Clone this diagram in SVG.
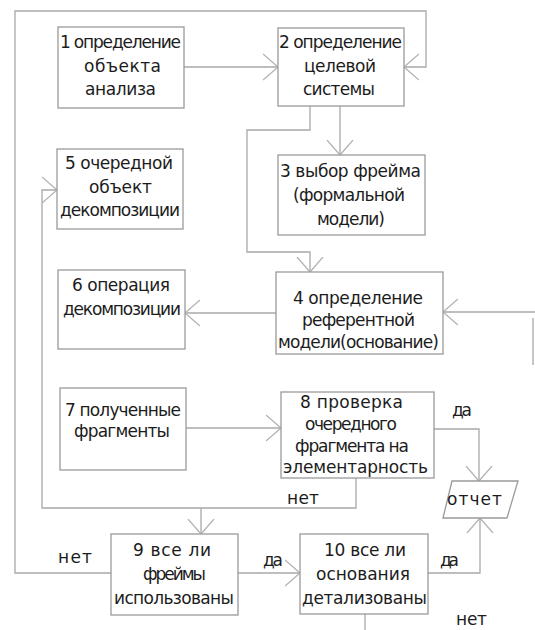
<svg xmlns="http://www.w3.org/2000/svg" width="535" height="630" viewBox="0 0 535 630">
<style>
.b{fill:#fff;stroke:#9a9a9a;stroke-width:1.3}
.c{fill:none;stroke:#a8a8a8;stroke-width:1.3}
text{font-family:"DejaVu Sans","Liberation Sans",sans-serif;font-size:17px;fill:#1c1c1c}
</style>
<defs>
<marker id="a" markerUnits="userSpaceOnUse" markerWidth="20" markerHeight="30" viewBox="0 0 20 30" refX="15" refY="15" orient="auto">
<path d="M0,2 L15,15 L0,28" fill="none" stroke="#b0b0b0" stroke-width="1.2"/>
</marker>
</defs>
<rect width="535" height="630" fill="#fff"/>
<g id="connectors">
<path class="c" d="M184,67 H278" marker-end="url(#a)"/>
<path class="c" d="M111,573 H15 V11 H426 V67 H404" marker-end="url(#a)"/>
<path class="c" d="M340,106 V155" marker-end="url(#a)"/>
<path class="c" d="M310,106 V130 H247 V252 H310 V272" marker-end="url(#a)"/>
<path class="c" d="M276,313 H185" marker-end="url(#a)"/>
<path class="c" d="M535,312 H443" marker-end="url(#a)"/>
<path class="c" d="M533,318 V365" stroke="#dadada"/>
<path class="c" d="M356,478 V508 H42 V190 H57" marker-end="url(#a)"/>
<path class="c" d="M201,508 V534" marker-end="url(#a)"/>
<path class="c" d="M186,428 H281" marker-end="url(#a)"/>
<path class="c" d="M434,429 H479 V481" marker-end="url(#a)"/>
<path class="c" d="M238,573 H300" marker-end="url(#a)"/>
<path class="c" d="M428,573 H480 V518" marker-end="url(#a)"/>
<path class="c" d="M365,614 V630"/>
<text x="452" y="416" textLength="20">да</text>
<text x="287" y="504" textLength="32">нет</text>
<text x="58" y="563" textLength="34">нет</text>
<text x="263" y="566" textLength="20">да</text>
<text x="440" y="566" textLength="19">да</text>
<text x="456" y="625" textLength="31">нет</text>
</g>
<g id="n1"><rect class="b" x="58" y="27" width="126" height="81"/>
<text x="60" y="48" textLength="121">1 определение</text>
<text x="84" y="71.5" textLength="77">объекта</text>
<text x="85" y="95" textLength="71">анализа</text></g>
<g id="n2"><rect class="b" x="278" y="28" width="126" height="78"/>
<text x="279" y="48" textLength="123">2 определение</text>
<text x="304" y="71.5" textLength="72">целевой</text>
<text x="303" y="95" textLength="72">системы</text></g>
<g id="n3"><rect class="b" x="278" y="155" width="147" height="80"/>
<text x="280" y="177" textLength="141">3 выбор фрейма</text>
<text x="293" y="201" textLength="112">(формальной</text>
<text x="317" y="225" textLength="68">модели)</text></g>
<g id="n4"><rect class="b" x="276" y="272" width="167" height="82"/>
<text x="293" y="304" textLength="130">4 определение</text>
<text x="302" y="326" textLength="113">референтной</text>
<text x="278" y="348" textLength="161">модели(основание)</text></g>
<g id="n5"><rect class="b" x="57" y="149" width="126" height="80"/>
<text x="65" y="169" textLength="108">5 очередной</text>
<text x="89" y="193" textLength="63">объект</text>
<text x="60" y="216" textLength="120">декомпозиции</text></g>
<g id="n6"><rect class="b" x="58" y="270" width="127" height="79"/>
<text x="72" y="291" textLength="98">6 операция</text>
<text x="63" y="315" textLength="118">декомпозиции</text></g>
<g id="n7"><rect class="b" x="60" y="388" width="126" height="82"/>
<text x="65" y="416" textLength="116">7 полученные</text>
<text x="74" y="437" textLength="96">фрагменты</text></g>
<g id="n8"><rect class="b" x="281" y="392" width="153" height="86"/>
<text x="300" y="408" textLength="103">8 проверка</text>
<text x="305" y="430" textLength="92">очередного</text>
<text x="295" y="452" textLength="114">фрагмента на</text>
<text x="283" y="473" textLength="145">элементарность</text></g>
<g id="n9"><rect class="b" x="111" y="534" width="127" height="81"/>
<text x="133" y="556" textLength="78">9 все ли</text>
<text x="143" y="580" textLength="63">фреймы</text>
<text x="114" y="604" textLength="120">использованы</text></g>
<g id="n10"><rect class="b" x="300" y="534" width="128" height="80"/>
<text x="324" y="556" textLength="82">10 все ли</text>
<text x="316" y="580" textLength="94">основания</text>
<text x="302" y="604" textLength="125">детализованы</text></g>
<g id="n11"><polygon class="b" points="452,481 518,481 507,518 443,518"/>
<text x="447" y="505" textLength="55">отчет</text></g>
</svg>
